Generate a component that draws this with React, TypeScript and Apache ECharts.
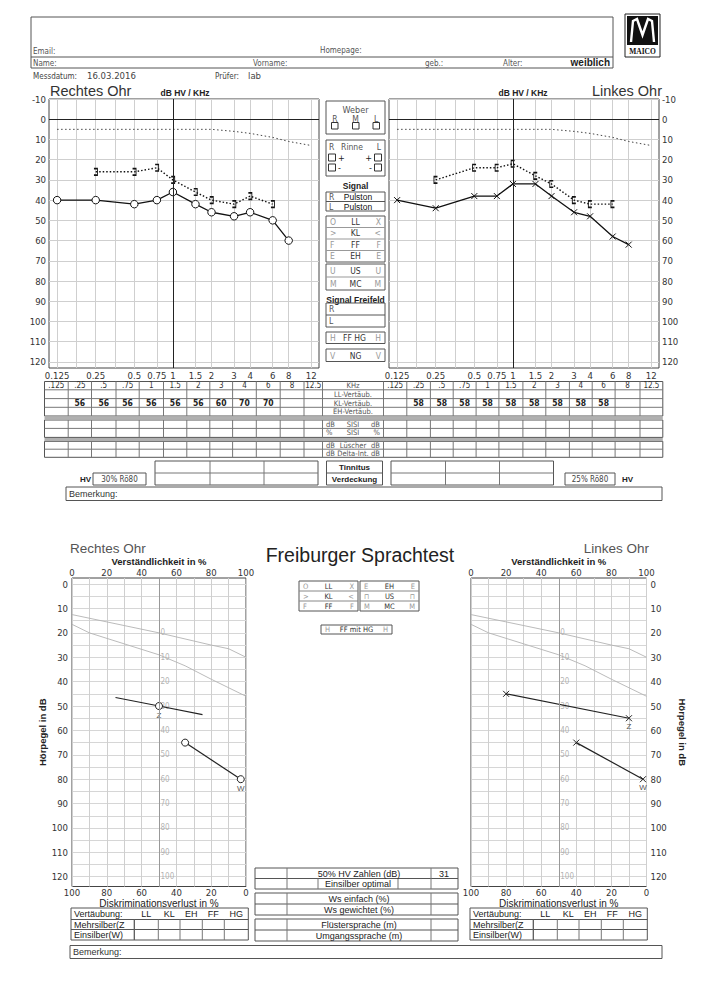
import React, { useEffect, useRef } from "react";
import * as echarts from "echarts";

// ---------------- Tonaudiogramm data ----------------
const FREQ_LABELS = [0.125, 0.25, 0.5, 0.75, 1, 1.5, 2, 3, 4, 6, 8, 12];
const FREQ_GRID = [0.125, 0.177, 0.25, 0.354, 0.5, 0.75, 1, 1.5, 2, 3, 4, 6, 8, 12];
const DB_LABELS = [-10, 0, 10, 20, 30, 40, 50, 60, 70, 80, 90, 100, 110, 120];

const NORMAL_FREQS = [0.125, 0.25, 0.5, 1, 2, 3, 4, 6, 8, 12];
const NORMAL_DB = [5, 5, 5, 5, 5, 6, 7, 9, 11, 13];

const AIR_FREQS = [0.125, 0.25, 0.5, 0.75, 1, 1.5, 2, 3, 4, 6, 8];
const RIGHT_AIR = [40, 40, 42, 40, 36, 42, 46, 48, 46, 50, 60];
const LEFT_AIR = [40, 44, 38, 38, 32, 32, 38, 46, 48, 58, 62];
const BONE_FREQS = [0.25, 0.5, 0.75, 1, 1.5, 2, 3, 4, 6];
const RIGHT_BONE = [26, 26, 24, 30, 36, 40, 42, 38, 42];
const LEFT_BONE = [30, 24, 24, 22, 28, 32, 40, 42, 42];

// ---------------- Vertäubung table ----------------
const TABLE_FREQS = [".125", ".25", ".5", ".75", "1", "1.5", "2", "3", "4", "6", "8", "12.5"];
const KL_RIGHT_EAR = ["", "56", "56", "56", "56", "56", "56", "60", "70", "70", "", ""];
const KL_LEFT_EAR = ["", "58", "58", "58", "58", "58", "58", "58", "58", "58", "", ""];
const HV_RIGHT = "30% Rö80";
const HV_LEFT = "25% Rö80";

// ---------------- Freiburger Sprachtest data ----------------
const PCT_LABELS = [0, 20, 40, 60, 80, 100];
const PCT_GRID = [0, 10, 20, 30, 40, 50, 60, 70, 80, 90, 100];
const SP_DB_LABELS = [0, 10, 20, 30, 40, 50, 60, 70, 80, 90, 100, 110, 120];
const SP_DB_GRID = [0, 5, 10, 15, 20, 25, 30, 35, 40, 45, 50, 55, 60, 65, 70, 75, 80, 85, 90, 95, 100, 105, 110, 115, 120];
const NORM_NUM_PCT = [0, 50, 80, 90, 100];
const NORM_NUM_DB = [12.5, 20, 25, 26.5, 30];
const NORM_MONO_PCT = [0, 10, 30, 50, 65, 80, 100];
const NORM_MONO_DB = [16.5, 20, 24.5, 29, 33.5, 39, 46];
const HV_SCALE_TEXT = ["0", "10", "20", "30", "40", "50", "60", "70", "80", "90", "100"];
const HV_SCALE_DB = [20, 30, 40, 50, 60, 70, 80, 90, 100, 110, 120];

const R_Z_PCT = [25, 50, 75];
const R_Z_DB = [46.5, 50, 53.5];
const R_Z_MARK = [false, true, false];
const R_Z_TAG = ["", "Z", ""];
const R_W_PCT = [65, 97];
const R_W_DB = [65, 80];
const R_W_MARK = [true, true];
const R_W_TAG = ["", "W"];

const L_Z_PCT = [20, 90];
const L_Z_DB = [45, 55];
const L_Z_MARK = [true, true];
const L_Z_TAG = ["", "Z"];
const L_W_PCT = [60, 98];
const L_W_DB = [65, 80];
const L_W_MARK = [true, true];
const L_W_TAG = ["", "W"];

const HV_ZAHLEN = "31";

// ---------------- styling ----------------
const FONT_N = "'Liberation Sans Narrow', 'DejaVu Sans Condensed', 'Liberation Sans', Arial, sans-serif";
const FONT = "'Liberation Sans', Arial, sans-serif";
const TXT = "#333";
const BORDER = "#555";
const GRIDC = "#cfcfcf";

const log2 = (f: number) => Math.log(f) / Math.LN2;
const XMIN = log2(0.125) - 0.21;
const XMAX = log2(12) + 0.2;

const SYM_X = "path://M0,0L10,10M10,0L0,10";
const SYM_RB = "path://M0,0L5,0L5,12L0,12";
const SYM_LB = "path://M5,0L0,0L0,12L5,12";

const lbl = { color: TXT, fontSize: 9, fontFamily: FONT_N };

function topX(gridIndex: number) {
  return {
    type: "value", gridIndex, min: XMIN, max: XMAX,
    axisLine: { show: false },
    axisTick: { show: false, customValues: FREQ_GRID.map(log2) },
    splitLine: { show: true, lineStyle: { color: GRIDC, width: 1 } },
    axisLabel: {
      ...lbl, fontSize: 9.5, margin: 2, customValues: FREQ_LABELS.map(log2),
      formatter: (v: number) => String(parseFloat(Math.pow(2, v).toFixed(3))),
    },
  };
}
function topY(gridIndex: number, position: string) {
  return {
    type: "value", gridIndex, position, inverse: true, min: -10, max: 123,
    axisLine: { show: false },
    axisTick: { show: false, customValues: DB_LABELS },
    splitLine: { show: true, lineStyle: { color: GRIDC, width: 1 } },
    axisLabel: { ...lbl, fontSize: 9.5, margin: 3, customValues: DB_LABELS },
  };
}
function spXTop(gridIndex: number) {
  return {
    type: "value", gridIndex, position: "top", min: 0, max: 100,
    name: "Verständlichkeit in %", nameLocation: "middle", nameGap: 11,
    nameTextStyle: { fontSize: 9.5, fontWeight: "bold", fontFamily: FONT, color: "#222" },
    axisLine: { show: false },
    axisTick: { show: false, customValues: PCT_GRID },
    splitLine: { show: true, lineStyle: { color: GRIDC, width: 1 } },
    axisLabel: { ...lbl, fontSize: 9.5, margin: 1, customValues: PCT_LABELS },
  };
}
function spXBottom(gridIndex: number) {
  return {
    type: "value", gridIndex, position: "bottom", inverse: true, min: 0, max: 100,
    name: "Diskriminationsverlust in %", nameLocation: "middle", nameGap: 10,
    nameTextStyle: { fontSize: 10, fontFamily: FONT, color: "#222" },
    axisLine: { show: false },
    axisTick: { show: false, customValues: PCT_LABELS },
    splitLine: { show: false },
    axisLabel: { ...lbl, fontSize: 9.5, margin: 1, customValues: PCT_LABELS },
  };
}
function spY(gridIndex: number, position: string) {
  const left = position === "left";
  return {
    type: "value", gridIndex, position, inverse: true, min: -2.5, max: 124,
    name: "Hörpegel in dB", nameLocation: "middle", nameGap: left ? 19 : 31,
    nameRotate: left ? 90 : -90,
    nameTextStyle: { fontSize: 9.5, fontWeight: "bold", fontFamily: FONT, color: "#222" },
    axisLine: { show: false },
    axisTick: { show: false, customValues: SP_DB_GRID },
    splitLine: { show: true, lineStyle: { color: "#d6d6d6", width: 1 } },
    axisLabel: { ...lbl, fontSize: 9.5, margin: 4, customValues: SP_DB_LABELS },
  };
}

function audioSeries(xi: number, yi: number, air: number[], bone: number[], isRight: boolean) {
  const normal = NORMAL_FREQS.map((f, i) => [log2(f), NORMAL_DB[i]]);
  return [
    {
      type: "line", xAxisIndex: xi, yAxisIndex: yi, data: normal, symbol: "none", silent: true,
      lineStyle: { color: "#444", width: 1, type: [1.5, 2.5] },
      markLine: {
        silent: true, symbol: "none", label: { show: false },
        lineStyle: { color: "#222", width: 1, type: "solid" },
        data: [{ xAxis: 0 }, { yAxis: 0 }],
      },
    },
    {
      type: "line", xAxisIndex: xi, yAxisIndex: yi, silent: true,
      data: BONE_FREQS.map((f, i) => [log2(f), bone[i]]),
      symbol: isRight ? SYM_RB : SYM_LB, symbolSize: [3.5, 6.5],
      itemStyle: { color: "transparent", borderColor: "#111", borderWidth: 1.2 },
      lineStyle: { color: "#111", width: 1.4, type: [1.5, 2] },
    },
    {
      type: "line", xAxisIndex: xi, yAxisIndex: yi, silent: true,
      data: AIR_FREQS.map((f, i) => [log2(f), air[i]]),
      symbol: isRight ? "circle" : SYM_X, symbolSize: isRight ? 7.5 : 6,
      itemStyle: isRight
        ? { color: "#fff", borderColor: "#111", borderWidth: 1 }
        : { color: "transparent", borderColor: "#111", borderWidth: 1 },
      lineStyle: { color: "#111", width: 1.3 },
    },
  ];
}

function measured(xi: number, yi: number, pct: number[], db: number[], mark: boolean[], tag: string[], isRight: boolean) {
  return {
    type: "line", xAxisIndex: xi, yAxisIndex: yi, silent: true,
    lineStyle: { color: "#222", width: 1.2 },
    symbol: isRight ? "circle" : SYM_X,
    symbolSize: isRight ? 7 : 6,
    itemStyle: isRight
      ? { color: "#fff", borderColor: "#222", borderWidth: 1 }
      : { color: "transparent", borderColor: "#222", borderWidth: 1 },
    data: pct.map((p, i) => ({
      value: [p, db[i]],
      symbol: mark[i] ? (isRight ? "circle" : SYM_X) : "none",
      label: {
        show: tag[i] !== "", formatter: tag[i], position: "bottom", distance: 1,
        fontSize: 8, color: "#555", fontFamily: FONT,
      },
    })),
  };
}

function speechSeries(xi: number, yi: number, isRight: boolean) {
  const out: any[] = [
    {
      type: "line", xAxisIndex: xi, yAxisIndex: yi, silent: true, symbol: "none",
      data: NORM_NUM_PCT.map((p, i) => [p, NORM_NUM_DB[i]]),
      lineStyle: { color: "#b3b3b3", width: 0.9 },
      markLine: {
        silent: true, symbol: "none", label: { show: false },
        lineStyle: { color: "#999", width: 1, type: "solid" },
        data: [{ xAxis: 50 }],
      },
    },
    {
      type: "line", xAxisIndex: xi, yAxisIndex: yi, silent: true, symbol: "none",
      data: NORM_MONO_PCT.map((p, i) => [p, NORM_MONO_DB[i]]),
      lineStyle: { color: "#b3b3b3", width: 0.9 },
    },
    {
      type: "scatter", xAxisIndex: xi, yAxisIndex: yi, silent: true,
      symbol: "circle", symbolSize: 1, itemStyle: { color: "transparent" },
      data: HV_SCALE_DB.map((d, i) => [50, d, HV_SCALE_TEXT[i]]),
      label: {
        show: true, position: "right", distance: 1, formatter: (p: any) => p.data[2],
        fontSize: 8, color: "#a0a0a0", fontFamily: FONT_N,
      },
    },
  ];
  if (isRight) {
    out.push(measured(xi, yi, R_Z_PCT, R_Z_DB, R_Z_MARK, R_Z_TAG, true));
    out.push(measured(xi, yi, R_W_PCT, R_W_DB, R_W_MARK, R_W_TAG, true));
  } else {
    out.push(measured(xi, yi, L_Z_PCT, L_Z_DB, L_Z_MARK, L_Z_TAG, false));
    out.push(measured(xi, yi, L_W_PCT, L_W_DB, L_W_MARK, L_W_TAG, false));
  }
  return out;
}

function buildGraphic() {
  const G: any[] = [];
  const R = (x: number, y: number, w: number, h: number, o: any = {}) =>
    G.push({
      type: "rect", silent: true, shape: { x, y, width: w, height: h },
      style: { fill: o.fill || "none", stroke: o.stroke === undefined ? BORDER : o.stroke, lineWidth: o.lw || 1 },
    });
  const L = (x1: number, y1: number, x2: number, y2: number, o: any = {}) =>
    G.push({ type: "line", silent: true, shape: { x1, y1, x2, y2 }, style: { stroke: o.stroke || BORDER, lineWidth: o.lw || 1 } });
  const T = (x: number, y: number, text: string, o: any = {}) =>
    G.push({
      type: "text", silent: true, x, y,
      style: {
        text, fill: o.fill || TXT, fontSize: o.size || 8, fontFamily: o.font || FONT_N,
        fontWeight: o.weight || "normal", align: o.align || "left", verticalAlign: "middle",
      },
    });

  // ---- header ----
  R(31, 17, 582, 51);
  L(31, 57, 613, 57);
  T(33, 51, "Email:", { fill: "#555" });
  T(320, 50, "Homepage:", { fill: "#555" });
  T(33, 63, "Name:", { fill: "#555" });
  T(253, 63, "Vorname:", { fill: "#555" });
  T(425, 63, "geb.:", { fill: "#555" });
  T(503, 63, "Alter:", { fill: "#555" });
  T(610, 62, "weiblich", { size: 10, weight: "bold", font: FONT, fill: "#222", align: "right" });
  // MAICO logo
  R(625, 14, 35, 43, { stroke: "#222" });
  R(627, 16, 31, 29, { fill: "#111", stroke: null });
  G.push({
    type: "polyline", silent: true,
    shape: { points: [[631, 42], [633, 21], [637, 19], [642.5, 35], [648, 19], [652, 21], [654, 42]] },
    style: { stroke: "#fff", lineWidth: 2.4, fill: "none" },
  });
  T(642.5, 51, "MAICO", { align: "center", size: 7.5, weight: "bold", font: "'Liberation Serif', serif", fill: "#111" });

  T(33, 76, "Messdatum:", { fill: "#444" });
  T(87, 75, "16.03.2016", { size: 9.5, fill: "#444" });
  T(215, 76, "Prüfer:", { fill: "#444" });
  T(248, 75, "lab", { size: 9.5, fill: "#444" });

  T(50, 91, "Rechtes Ohr", { size: 14.5, font: FONT, fill: "#333" });
  T(185, 92.5, "dB HV / KHz", { size: 8.5, weight: "bold", font: FONT, align: "center", fill: "#222" });
  T(523, 92.5, "dB HV / KHz", { size: 8.5, weight: "bold", font: FONT, align: "center", fill: "#222" });
  T(662, 91, "Linkes Ohr", { size: 14.5, font: FONT, fill: "#333", align: "right" });

  // ---- middle panel ----
  const MX = 326, MW = 59, MC = MX + MW / 2;
  const mid = { size: 8.5, font: FONT_N, fill: "#555" };
  R(MX, 101, MW, 33);
  T(MC, 109.5, "Weber", { ...mid, align: "center", size: 9 });
  T(335, 118.5, "R", { ...mid, align: "center" });
  T(MC, 118.5, "M", { ...mid, align: "center" });
  T(376, 118.5, "L", { ...mid, align: "center" });
  R(331.5, 122.5, 6.5, 6.5, { stroke: "#333" });
  R(352.5, 122.5, 6.5, 6.5, { stroke: "#333" });
  R(373, 122.5, 6.5, 6.5, { stroke: "#333" });

  R(MX, 140, MW, 36);
  T(329, 147, "R", mid);
  T(352, 147, "Rinne", { ...mid, align: "center" });
  T(381, 147, "L", { ...mid, align: "right" });
  R(328.5, 154, 7, 7, { stroke: "#333" });
  T(338, 157.5, "+", { ...mid, fill: "#222", size: 9 });
  T(372, 157.5, "+", { ...mid, fill: "#222", size: 9, align: "right" });
  R(374.5, 154, 7, 7, { stroke: "#333" });
  R(328.5, 164, 7, 7, { stroke: "#333" });
  T(338, 167.5, "-", { ...mid, fill: "#222", size: 9 });
  T(372, 167.5, "-", { ...mid, fill: "#222", size: 9, align: "right" });
  R(374.5, 164, 7, 7, { stroke: "#333" });

  T(MC, 185.5, "Signal", { size: 8.5, weight: "bold", font: FONT, align: "center", fill: "#222" });
  R(MX, 192, MW, 19);
  L(MX, 201.5, MX + MW, 201.5);
  T(329, 197, "R", mid);
  T(358, 197, "Pulston", { size: 8.5, font: FONT, fill: "#111", align: "center" });
  T(329, 206.5, "L", mid);
  T(358, 206.5, "Pulston", { size: 8.5, font: FONT, fill: "#111", align: "center" });

  const rows1 = [["O", "LL", "X"], [">", "KL", "<"], ["F", "FF", "F"], ["E", "EH", "E"]];
  R(MX, 216, MW, 46);
  rows1.forEach((r, i) => {
    const y = 216 + 11.5 * i + 5.9;
    if (i > 0) L(MX, 216 + 11.5 * i, MX + MW, 216 + 11.5 * i, { stroke: "#999" });
    T(330, y, r[0], { ...mid, fill: "#999" });
    T(MC, y, r[1], { ...mid, fill: "#333", align: "center" });
    T(381, y, r[2], { ...mid, fill: "#999", align: "right" });
  });
  const rows2 = [["U", "US", "U"], ["M", "MC", "M"]];
  R(MX, 264, MW, 26);
  L(MX, 277, MX + MW, 277, { stroke: "#999" });
  rows2.forEach((r, i) => {
    const y = 264 + 13 * i + 6.6;
    T(330, y, r[0], { ...mid, fill: "#999" });
    T(MC, y, r[1], { ...mid, fill: "#333", align: "center" });
    T(381, y, r[2], { ...mid, fill: "#999", align: "right" });
  });
  T(MC, 299.5, "Signal Freifeld", { size: 8.5, weight: "bold", font: FONT, align: "center", fill: "#222" });
  R(MX, 303, MW, 24);
  L(MX, 315, MX + MW, 315);
  T(329, 309, "R", mid);
  T(329, 321, "L", mid);
  R(MX, 332, MW, 11.5);
  T(330, 338, "H", { ...mid, fill: "#999" });
  T(MC - 1, 338, "FF HG", { ...mid, fill: "#333", align: "center" });
  T(381, 338, "H", { ...mid, fill: "#999", align: "right" });
  R(MX, 349, MW, 12.5);
  T(330, 355.5, "V", { ...mid, fill: "#999" });
  T(MC, 355.5, "NG", { ...mid, fill: "#333", align: "center" });
  T(381, 355.5, "V", { ...mid, fill: "#999", align: "right" });

  // ---- Vertäubung table ----
  const LC = [44.5, 68.2, 91.5, 116, 139.2, 163.5, 186.8, 209.8, 232.6, 256.3, 280.2, 304, 322.5];
  const RC = [383.5, 406.8, 430.4, 453.2, 476.1, 498.9, 522.9, 545.8, 569.4, 592.2, 615.1, 640, 662.8];
  const X0 = 44.5, X1 = 662.8;
  const secs = [[381.5, 389.8, 398.6, 407.3, 416], [420, 428.4, 437.4], [441.3, 449.2, 457.3]];
  secs.forEach((rows) => {
    const top = rows[0], bot = rows[rows.length - 1];
    R(X0, top, X1 - X0, bot - top);
    rows.slice(1, -1).forEach((y) => L(X0, y, X1, y, { stroke: "#777" }));
    LC.slice(1).forEach((x) => L(x, top, x, bot, { stroke: "#777" }));
    RC.slice(0, -1).forEach((x) => L(x, top, x, bot, { stroke: "#777" }));
  });
  R(X0, 416.5, X1 - X0, 3, { fill: "#b0b0b0", stroke: null });
  R(X0, 437.9, X1 - X0, 3, { fill: "#b0b0b0", stroke: null });
  const cx = (cols: number[], i: number) => (cols[i] + cols[i + 1]) / 2;
  TABLE_FREQS.forEach((f, i) => {
    T(cx(LC, i), 385.8, f, { align: "center", size: 8 });
    T(cx(RC, i), 385.8, f, { align: "center", size: 8 });
  });
  KL_RIGHT_EAR.forEach((v, i) => { if (v) T(cx(LC, i), 403, v, { align: "center", size: 8.5, weight: "bold", fill: "#222" }); });
  KL_LEFT_EAR.forEach((v, i) => { if (v) T(cx(RC, i), 403, v, { align: "center", size: 8.5, weight: "bold", fill: "#222" }); });
  const MCX = 353;
  T(MCX, 385.8, "KHz", { align: "center", size: 7.5, fill: "#555" });
  T(MCX, 394.3, "LL-Vertäub.", { align: "center", size: 7.5, fill: "#555" });
  T(MCX, 403, "KL-Vertäub.", { align: "center", size: 7.5, fill: "#555" });
  T(MCX, 411.7, "EH-Vertäub.", { align: "center", size: 7.5, fill: "#555" });
  const sideRow = (y: number, a: string, b: string) => {
    T(326, y, a, { size: 7.5, fill: "#555" });
    T(MCX, y, b, { size: 7.5, fill: "#555", align: "center" });
    T(380, y, a, { size: 7.5, fill: "#555", align: "right" });
  };
  sideRow(424.2, "dB", "SISI");
  sideRow(432.9, "%", "SISI");
  sideRow(445.2, "dB", "Lüscher");
  sideRow(453.2, "dB", "Delta-Int.");

  // ---- Tinnitus row ----
  R(155, 461, 163, 24);
  L(155, 473, 318, 473, { stroke: "#777" });
  L(210, 461, 210, 485, { stroke: "#777" });
  L(264, 461, 264, 485, { stroke: "#777" });
  R(326.5, 461, 56, 24);
  L(326.5, 473, 382.5, 473);
  T(354.5, 467, "Tinnitus", { size: 8, weight: "bold", font: FONT, align: "center", fill: "#222" });
  T(354.5, 479, "Verdeckung", { size: 8, weight: "bold", font: FONT, align: "center", fill: "#222" });
  R(391, 461, 162.5, 24);
  L(391, 473, 553.5, 473, { stroke: "#777" });
  L(445.5, 461, 445.5, 485, { stroke: "#777" });
  L(499.5, 461, 499.5, 485, { stroke: "#777" });
  T(80, 479, "HV", { size: 8, weight: "bold", font: FONT, fill: "#222" });
  R(93, 473, 53, 12);
  T(119.5, 479, HV_RIGHT, { size: 8, align: "center", fill: "#444" });
  R(565, 473, 50, 12);
  T(590, 479, HV_LEFT, { size: 8, align: "center", fill: "#444" });
  T(622, 479, "HV", { size: 8, weight: "bold", font: FONT, fill: "#222" });
  R(66, 487, 596, 13.5);
  T(69, 494, "Bemerkung:", { size: 9, font: FONT, fill: "#333" });

  // ---- Sprachtest titles ----
  T(70, 548, "Rechtes Ohr", { size: 13.5, font: FONT, fill: "#555" });
  T(360, 555, "Freiburger Sprachtest", { size: 19.5, font: FONT, fill: "#222", align: "center" });
  T(649, 548.5, "Linkes Ohr", { size: 13.5, font: FONT, fill: "#555", align: "right" });

  // legend table
  const leg = [
    [["O", "LL", "X"], [">", "KL", "<"], ["F", "FF", "F"]],
    [["E", "EH", "E"], ["⊓", "US", "⊓"], ["M", "MC", "M"]],
  ];
  const legX = [299, 360];
  leg.forEach((block, b) => {
    const x = legX[b];
    R(x, 581, 59, 30);
    L(x, 591, x + 59, 591, { stroke: "#888" });
    L(x, 601, x + 59, 601, { stroke: "#888" });
    block.forEach((r, i) => {
      const y = 586 + 10 * i;
      T(x + 4, y, r[0], { size: 7.5, fill: "#999" });
      T(x + 29.5, y, r[1], { size: 7.5, fill: "#333", align: "center" });
      T(x + 55, y, r[2], { size: 7.5, fill: "#999", align: "right" });
    });
  });
  R(321, 625, 71, 9);
  T(325, 629.7, "H", { size: 7.5, fill: "#999" });
  T(356.5, 629.7, "FF mit HG", { size: 7.5, fill: "#333", align: "center" });
  T(388, 629.7, "H", { size: 7.5, fill: "#999", align: "right" });

  // ---- center result tables ----
  const CX0 = 255, CX1 = 458, CD1 = 287, CD2 = 431;
  const ctext = { size: 9, font: FONT, fill: "#222", align: "center" };
  const box = (top: number, mid: number, bot: number) => {
    R(CX0, top, CX1 - CX0, bot - top);
    L(CX0, mid, CX1, mid);
    L(CD1, top, CD1, bot, { stroke: "#777" });
    L(CD2, top, CD2, bot, { stroke: "#777" });
  };
  box(868, 878.5, 889);
  L(318, 878.5, 318, 889, { stroke: "#777" });
  L(398, 878.5, 398, 889, { stroke: "#777" });
  T(359, 873.5, "50% HV Zahlen (dB)", ctext);
  T(444, 873.5, HV_ZAHLEN, ctext);
  T(358, 884, "Einsilber optimal", ctext);
  box(893, 904, 915);
  T(359, 898.7, "Ws einfach (%)", ctext);
  T(359, 909.7, "Ws gewichtet (%)", ctext);
  box(919, 930, 941);
  T(359, 924.7, "Flüstersprache (m)", ctext);
  T(359, 935.7, "Umgangssprache (m)", ctext);

  // ---- Vertäubung tables under speech charts ----
  const vt = (x0: number) => {
    const cols = [0, 63.3, 87.3, 109, 131.3, 153.3, 177.3].map((d) => x0 + d);
    const ys = [908, 919.5, 929.5, 940];
    R(cols[0], ys[0], cols[6] - cols[0], ys[3] - ys[0]);
    L(cols[0], ys[1], cols[6], ys[1]);
    L(cols[0], ys[2], cols[6], ys[2]);
    cols.slice(1, 6).forEach((x) => L(x, ys[1], x, ys[3], { stroke: "#777" }));
    L(cols[1], ys[1], cols[1], ys[3]);
    const t = { size: 9, font: FONT, fill: "#222" };
    T(cols[0] + 3, 913.8, "Vertäubung:", t);
    ["LL", "KL", "EH", "FF", "HG"].forEach((s, i) => T((cols[i + 1] + cols[i + 2]) / 2, 913.8, s, { ...t, align: "center" }));
    T(cols[0] + 3, 924.5, "Mehrsilber(Z", t);
    T(cols[0] + 3, 935, "Einsilber(W)", t);
  };
  vt(71);
  vt(470);
  R(70, 945.5, 592, 13);
  T(73, 952, "Bemerkung:", { size: 9, font: FONT, fill: "#333" });

  return G;
}

function buildOption() {
  const gridBase = { show: true, borderColor: "#444", borderWidth: 1, backgroundColor: "transparent", containLabel: false };
  return {
    animation: false,
    backgroundColor: "#fff",
    grid: [
      { ...gridBase, left: 49, top: 99, width: 270, height: 269 },
      { ...gridBase, left: 389, top: 99, width: 270, height: 269 },
      { ...gridBase, left: 72, top: 578, width: 174, height: 308.5 },
      { ...gridBase, left: 471, top: 578, width: 175.5, height: 308.5 },
    ],
    xAxis: [topX(0), topX(1), spXTop(2), spXBottom(2), spXTop(3), spXBottom(3)],
    yAxis: [topY(0, "left"), topY(1, "right"), spY(2, "left"), spY(3, "right")],
    series: [
      ...audioSeries(0, 0, RIGHT_AIR, RIGHT_BONE, true),
      ...audioSeries(1, 1, LEFT_AIR, LEFT_BONE, false),
      ...speechSeries(2, 2, true),
      ...speechSeries(4, 3, false),
    ],
    graphic: { elements: buildGraphic() },
  };
}

export default function App() {
  const ref = useRef<HTMLDivElement>(null);
  useEffect(() => {
    document.body.style.margin = "0";
    const chart = echarts.init(ref.current as HTMLDivElement, null, { renderer: "svg" });
    chart.setOption(buildOption() as any);
    return () => chart.dispose();
  }, []);
  return <div ref={ref} style={{ width: 715, height: 990, background: "#fff" }} />;
}
